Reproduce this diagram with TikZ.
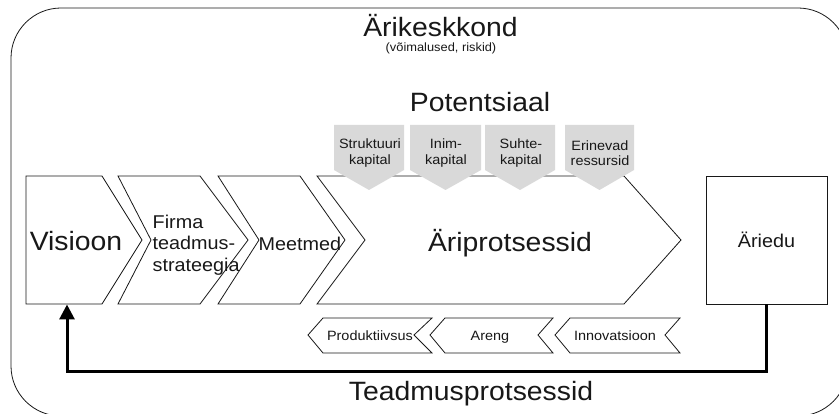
\documentclass[tikz,border=0pt]{standalone}
\usepackage{fontspec}
\setmainfont[FakeStretch=1.07]{Liberation Sans}
\usetikzlibrary{arrows.meta}
\definecolor{potgray}{RGB}{217,217,217}
\definecolor{ink}{RGB}{24,24,24}
\begin{document}
\begin{tikzpicture}[x=1pt,y=-1pt,
  outline/.style={draw=ink,line width=0.8pt,line join=miter},
  potential/.style={fill=potgray,draw=none},
  feedback/.style={draw=black,line width=3pt,-{Triangle[length=15pt,width=15pt]}},
  txt/.style={inner sep=0pt,text=ink},
  bigtxt/.style={txt,font=\fontsize{26.5}{31}\selectfont},
  midtxt/.style={txt,font=\fontsize{18.5}{21.5}\selectfont},
  smalltxt/.style={txt,font=\fontsize{13.5}{15.5}\selectfont},
  tinytxt/.style={txt,font=\fontsize{12}{14}\selectfont},
  resultbox/.style={outline,fill=white,minimum width=121pt,minimum height=128pt,inner sep=0pt,text=ink,font=\fontsize{18.5}{21.5}\selectfont},
  ]
\useasboundingbox (0,0) rectangle (839,414);
\fill[white] (0,0) rectangle (839,414);

% business environment frame
\begin{scope}
  \clip (0,0) rectangle (839,414);
  \draw[outline,rounded corners=50pt] (11,8) rectangle (848,416);
\end{scope}
\node[bigtxt,anchor=base] (env) at (440.5,37) {Ärikeskkond};
\node[tinytxt,anchor=base] (envsub) at (441,51.5) {(võimalused, riskid)};

% main process chain
\draw[outline] (26,176) -- (102,176) -- (142,240) -- (102,304) -- (26,304) -- cycle;
\draw[outline] (118,176) -- (200,176) -- (248,240) -- (200,304) -- (118,304) -- (151,240) -- cycle;
\draw[outline] (218,176) -- (300,176) -- (345,240) -- (300,304) -- (218,304) -- (259,240) -- cycle;
\draw[outline] (317,176) -- (624,176) -- (681,240) -- (624,304) -- (317,304) -- (365,240) -- cycle;
\coordinate (visfoot) at (67,304.5);

\node[bigtxt,anchor=base] (vision) at (76,251) {Visioon};
\node[midtxt,anchor=west,align=left] (strategy) at (152.5,245) {Firma\\teadmus-\\strateegia};
\node[midtxt,anchor=base] (measures) at (300,251) {Meetmed};
\node[bigtxt,anchor=base] (business) at (510,252) {Äriprotsessid};

% potential inputs
\node[bigtxt,anchor=base] (potential) at (480,112) {Potentsiaal};
\fill[potential] (334,125) -- (404,125) -- (404,170) -- (369,190) -- (334,170) -- cycle;
\fill[potential] (410,125) -- (481,125) -- (481,170) -- (445.5,190) -- (410,170) -- cycle;
\fill[potential] (485,125) -- (555,125) -- (555,170) -- (520,190) -- (485,170) -- cycle;
\fill[potential] (565,125) -- (634,125) -- (634,170) -- (599.5,190) -- (565,170) -- cycle;
\node[smalltxt,align=center] (struct) at (370,153) {Struktuuri\\kapital};
\node[smalltxt,align=center] (human) at (446,153) {Inim-\\kapital};
\node[smalltxt,align=center] (relation) at (521,153) {Suhte-\\kapital};
\node[smalltxt,align=center] (resources) at (600,153) {Erinevad\\ressursid};

% results
\node[resultbox] (result) at (766.5,240) {\raisebox{-3pt}{Äriedu}};

% knowledge processes
\draw[outline] (308,335) -- (323,318) -- (432,318) -- (414,335) -- (432,353) -- (323,353) -- cycle;
\draw[outline] (430,335) -- (445,318) -- (553,318) -- (538,335) -- (553,353) -- (445,353) -- cycle;
\draw[outline] (555,335) -- (570,318) -- (680,318) -- (665,335) -- (680,353) -- (570,353) -- cycle;
\node[smalltxt,anchor=base] (prod) at (370,341) {Produktiivsus};
\node[smalltxt,anchor=base] (devel) at (490,341) {Areng};
\node[smalltxt,anchor=base] (innov) at (615,341) {Innovatsioon};

\draw[feedback] (result.south) -- ++(0,67) -| (visfoot);
\node[bigtxt,anchor=base] (knowledge) at (471,400) {Teadmusprotsessid};
\end{tikzpicture}
\end{document}
